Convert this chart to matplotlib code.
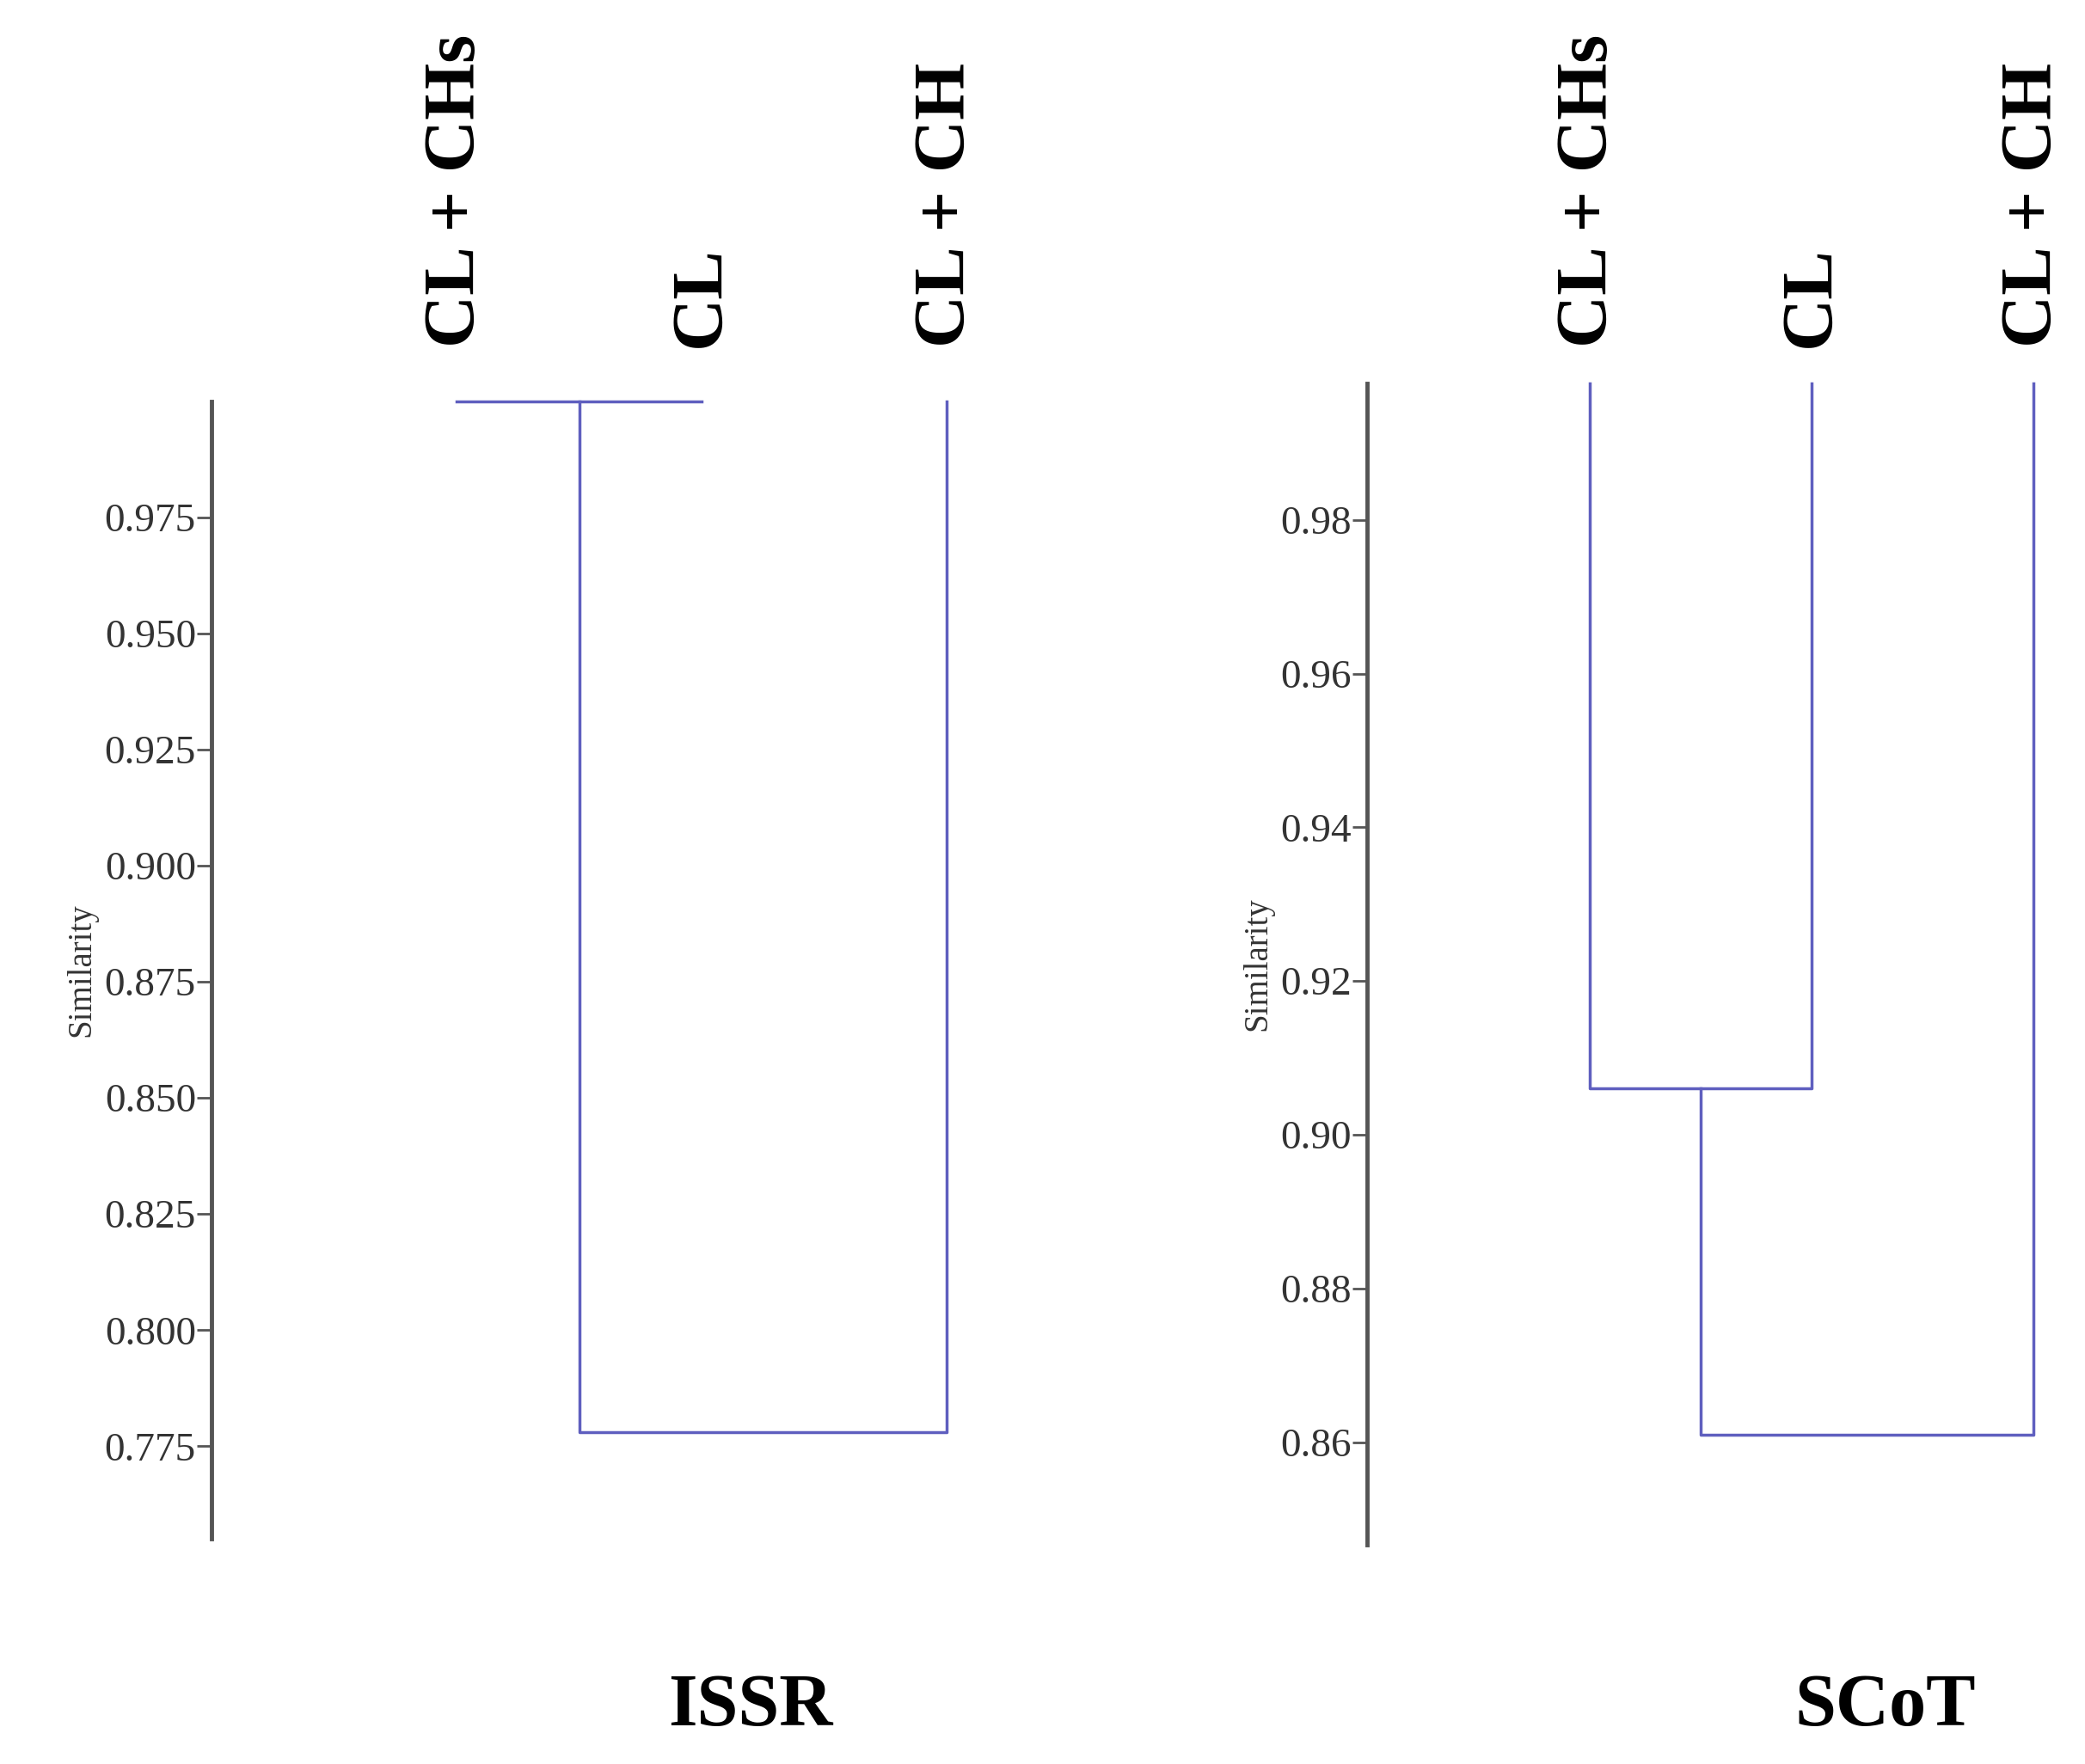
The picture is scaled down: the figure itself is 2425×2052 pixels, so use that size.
import matplotlib
matplotlib.use("Agg")
import matplotlib.pyplot as plt

leaves = ["CL + CHs", "CL", "CL + CH"]
issr_merge = [1.0, 0.778]      # (CL+CHs, CL) then with CL+CH
scot_merge = [0.906, 0.861]
issr_ticks = [0.775, 0.800, 0.825, 0.850, 0.875, 0.900, 0.925, 0.950, 0.975]
scot_ticks = [0.86, 0.88, 0.90, 0.92, 0.94, 0.96, 0.98]

W, H = 1548, 1310
fig = plt.figure(figsize=(24.25, 20.52), dpi=100)
LC = "#5f5fbf"
serif = "Liberation Serif"

def panel(rect, xmax, ylim, merges, ticks, fmt, title, tx):
    l, b, r, t = rect
    ax = fig.add_axes([l / W, 1 - b / H, (r - l) / W, (b - t) / H])
    ax.set_xlim(0, xmax)
    ax.set_ylim(*ylim)
    top = ylim[1]
    h1, h2 = merges
    xs = [1, 2, 3]
    ax.plot([xs[0], xs[0], xs[1], xs[1]], [top, h1, h1, top], color=LC, lw=2.5, clip_on=False)
    mid = (xs[0] + xs[1]) / 2
    ax.plot([mid, mid, xs[2], xs[2]], [h1, h2, h2, top], color=LC, lw=2.5, clip_on=False)
    for s in ["top", "right", "bottom"]:
        ax.spines[s].set_visible(False)
    ax.spines["left"].set_color("#555555")
    ax.spines["left"].set_linewidth(3.5)
    ax.set_xticks([])
    ax.set_yticks(ticks)
    ax.set_yticklabels([fmt.format(v) for v in ticks], fontfamily=serif, fontsize=34,
                       color="#333333", fontstretch="condensed")
    ax.tick_params(axis="y", length=12, width=2, color="#555555", pad=1)
    ax.set_ylabel("Similarity", fontfamily=serif, fontsize=28, color="#333333", labelpad=6)
    for x, lab in zip(xs, leaves):
        xf = ax.transData.transform((x, top))[0] / fig.bbox.width
        fig.text(xf, 1 - 258 / H, lab, rotation=90, ha="center", va="bottom",
                 fontfamily=serif, fontweight="bold", fontsize=61)
    fig.text(tx / W, 1 - 1268 / H, title, ha="center", va="center",
             fontfamily=serif, fontweight="bold", fontsize=62)
    return ax

panel((157, 1143, 157 + 182 * 3.3, 298), 3.3, (0.755, 1.0), issr_merge,
      issr_ticks, "{:.3f}", "ISSR", 557)
panel((1015, 1147, 1015 + 165 * 3.1, 285), 3.1, (0.8467, 0.9977), scot_merge,
      scot_ticks, "{:.2f}", "SCoT", 1400)

fig.savefig("out.png", dpi=100, facecolor="white")
